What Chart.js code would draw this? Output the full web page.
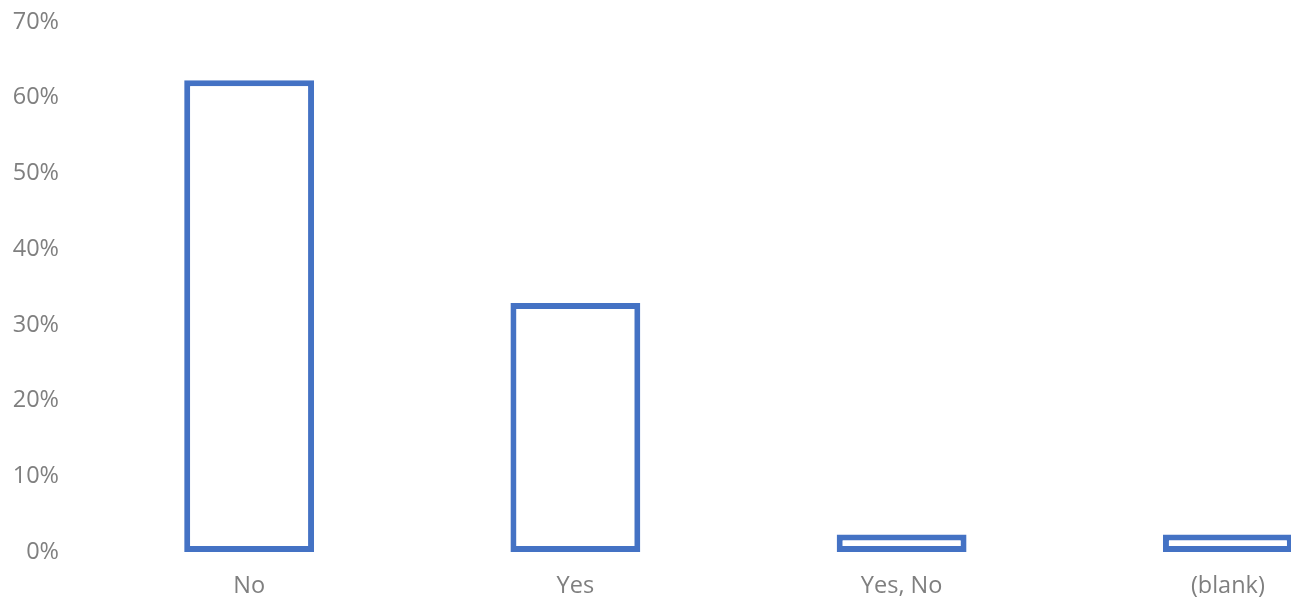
<!DOCTYPE html>
<html>
<head>
<meta charset="utf-8">
<script src="https://cdn.jsdelivr.net/npm/chart.js@4/dist/chart.umd.min.js"></script>
<style>
  html, body { margin: 0; padding: 0; background: #fff; overflow: hidden; }
  #wrap { position: absolute; left: 0; top: 0; width: 1391px; height: 601px; }
</style>
</head>
<body>
<div id="wrap"><canvas id="chart"></canvas></div>
<script>
const categories = ["No", "Yes", "Yes, No", "(blank)"];
const shares = [62.3, 32.9, 2.3, 2.3];
const yMax = 70;
const yStep = 10;

const labelFont = { family: "Open Sans", size: 23.5 };

new Chart(document.getElementById("chart"), {
  type: "bar",
  data: {
    labels: categories,
    datasets: [{
      data: shares,
      backgroundColor: "#ffffff",
      borderColor: "#4472c4",
      borderWidth: 6,
      borderSkipped: false,
      categoryPercentage: 1,
      barPercentage: 0.398
    }]
  },
  options: {
    responsive: true,
    maintainAspectRatio: false,
    animation: false,
    layout: { padding: { left: 0, top: 22, right: 0, bottom: 0 } },
    plugins: { legend: { display: false }, tooltip: { enabled: false } },
    scales: {
      x: {
        grid: { display: false },
        border: { display: false },
        ticks: { color: "#7f7f7f", font: labelFont, padding: 12, maxRotation: 0 },
        afterFit: function(scale) {
          scale.height = 49;
          scale.paddingLeft = 0;
          scale.paddingRight = 0;
        }
      },
      y: {
        min: 0,
        max: yMax,
        grid: { display: false },
        border: { display: false },
        ticks: {
          stepSize: yStep,
          color: "#7f7f7f",
          font: labelFont,
          padding: 19,
          callback: function(v) { return v + "%"; }
        },
        afterFit: function(scale) {
          scale.width = 86;
          scale.paddingTop = 0;
          scale.paddingBottom = 0;
        }
      }
    }
  }
});
</script>
</body>
</html>
